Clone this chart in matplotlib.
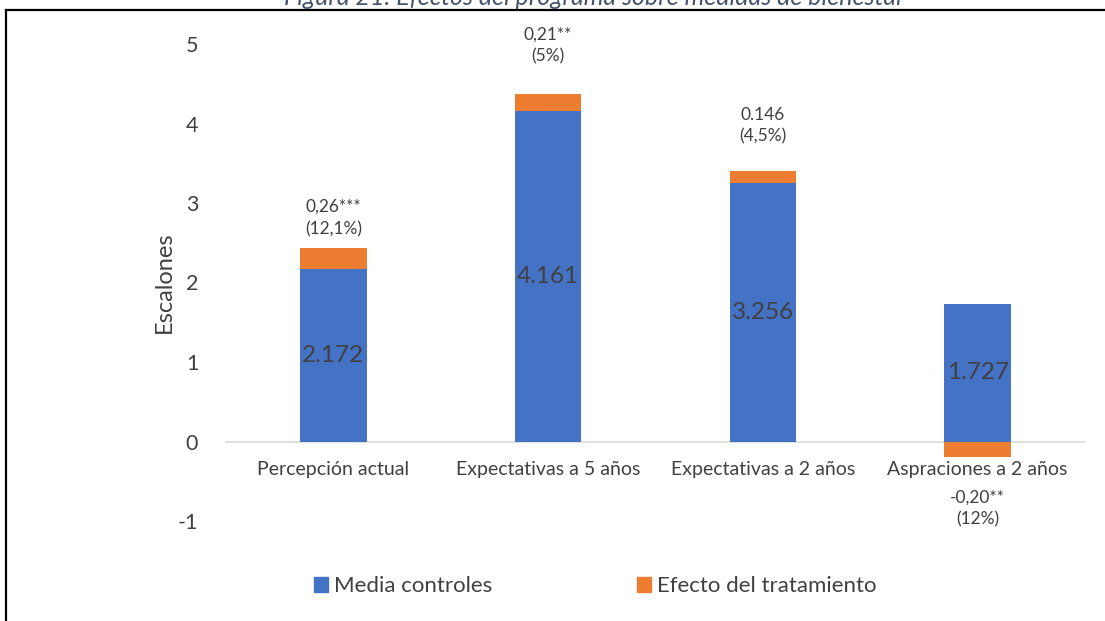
import matplotlib
matplotlib.use("Agg")
import matplotlib.pyplot as plt
from matplotlib.patches import Patch
from matplotlib.lines import Line2D

plt.rcParams['font.family'] = ['Lato', 'DejaVu Sans']

categories = ["Percepción actual", "Expectativas a 5 años", "Expectativas a 2 años", "Aspraciones a 2 años"]
media_controles = [2.172, 4.161, 3.256, 1.727]
efecto_tratamiento = [0.26, 0.21, 0.146, -0.20]
media_labels = ["2.172", "4.161", "3.256", "1.727"]
efecto_labels = ["0,26***\n(12,1%)", "0,21**\n(5%)", "0.146\n(4,5%)", "-0,20**\n(12%)"]
yticks = [-1, 0, 1, 2, 3, 4, 5]

# label offsets (points) from bar end, as placed in the original
label_offsets = [8, 21, 19, 23]

blue = "#4472C4"
orange = "#ED7D31"
txt = "#404040"

fig = plt.figure(figsize=(11.05, 6.21), dpi=100)
ax = fig.add_axes([226/1105, 1-521/621, (1085-226)/1105, (521-44)/621])

x = list(range(len(categories)))
w = 0.31
ax.bar(x, media_controles, width=w, color=blue, zorder=2)
bottoms = [m if e >= 0 else 0 for m, e in zip(media_controles, efecto_tratamiento)]
ax.bar(x, efecto_tratamiento, width=w, bottom=bottoms, color=orange, zorder=2)

for i, (m, lab) in enumerate(zip(media_controles, media_labels)):
    ax.text(i, m/2, lab, ha='center', va='center', fontsize=17.5, color=txt, zorder=3)

for i, (m, e, lab, off) in enumerate(zip(media_controles, efecto_tratamiento, efecto_labels, label_offsets)):
    if e >= 0:
        ax.annotate(lab, (i, m + e), xytext=(0, off), textcoords='offset points',
                    ha='center', va='bottom', fontsize=12.5, color=txt, linespacing=1.45)
    else:
        ax.annotate(lab, (i, e), xytext=(0, -off), textcoords='offset points',
                    ha='center', va='top', fontsize=12.5, color=txt, linespacing=1.45)

ax.set_xlim(-0.5, 3.5)
ax.set_ylim(-1, 5)
ax.set_yticks(yticks)
ax.set_yticklabels([str(t) for t in yticks])
ax.set_xticks(x)
ax.set_xticklabels(categories)
for s in ['top', 'right', 'left']:
    ax.spines[s].set_visible(False)
ax.spines['bottom'].set_position(('data', 0))
ax.spines['bottom'].set_color('#D9D9D9')
ax.spines['bottom'].set_linewidth(1.2)
ax.spines['bottom'].set_zorder(1)
ax.tick_params(axis='x', length=0, pad=14, labelsize=14, labelcolor=txt)
ax.tick_params(axis='y', length=0, pad=20, labelsize=15.5, labelcolor=txt)
ax.set_ylabel("Escalones", fontsize=17, color=txt, labelpad=2)

leg = fig.legend(handles=[Patch(color=blue, label="Media controles"),
                          Patch(color=orange, label="Efecto del tratamiento")],
                 loc='center', bbox_to_anchor=(595/1105, 1-586/621), ncol=2,
                 frameon=False, fontsize=16, handlelength=0.65, handleheight=0.65,
                 handletextpad=0.25, columnspacing=6.5)
for t in leg.get_texts():
    t.set_color(txt)

# frame (left and top edges visible)
fig.add_artist(Line2D([6/1105, 6/1105], [0, 1-10/621], transform=fig.transFigure,
                      color='black', linewidth=1.6, solid_capstyle='projecting'))
fig.add_artist(Line2D([6/1105, 1], [1-10/621, 1-10/621], transform=fig.transFigure,
                      color='black', linewidth=1.6, solid_capstyle='projecting'))
fig.text(594/1105, 1-5/621, "Figura 21. Efectos del programa sobre medidas de bienestar",
         ha='center', va='baseline', fontsize=18, style='italic', color='#44546A')

fig.savefig("out.png", dpi=100)
